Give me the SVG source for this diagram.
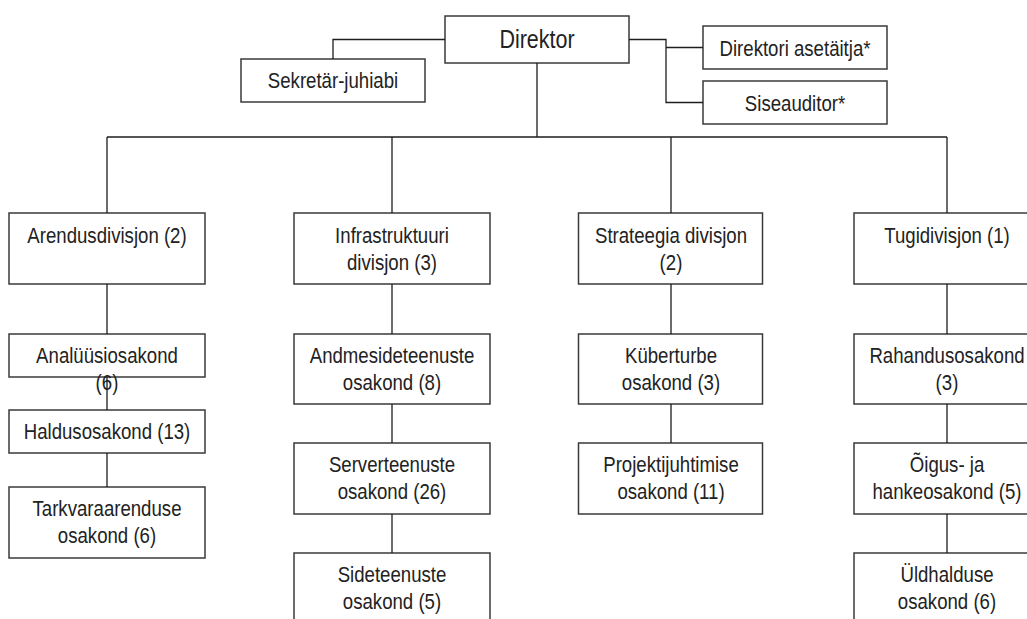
<svg xmlns="http://www.w3.org/2000/svg" width="1027" height="619" viewBox="0 0 1027 619">
  <style>
    .box { fill: #ffffff; stroke: #3a3a3a; stroke-width: 1.5; }
    .lbl { font-family: "Liberation Sans", Arial, sans-serif; font-size: 23px; fill: #222222; text-anchor: middle; }
    .big { font-size: 26.5px; }
    .wire { fill: none; stroke: #1e1e1e; stroke-width: 1.3; }
  </style>
  <rect width="1027" height="619" fill="#ffffff"/>

  <!-- top management -->
  <g id="direktor">
    <rect class="box" x="445" y="16" width="184" height="47"/>
    <text class="lbl big" transform="translate(537,48) scale(0.81,1)">Direktor</text>
  </g>
  <g id="sekretar">
    <rect class="box" x="241" y="59" width="184" height="43"/>
    <text class="lbl" transform="translate(333,88) scale(0.81,1)">Sekretär-juhiabi</text>
  </g>
  <g id="asetaitja">
    <rect class="box" x="703" y="26" width="184" height="43"/>
    <text class="lbl" transform="translate(795,56) scale(0.81,1)">Direktori asetäitja*</text>
  </g>
  <g id="siseaudiitor">
    <rect class="box" x="703" y="81" width="184" height="43"/>
    <text class="lbl" transform="translate(795,111) scale(0.81,1)">Siseauditor*</text>
  </g>

  <!-- divisions -->
  <g id="arendus">
    <rect class="box" x="9" y="213" width="196" height="71"/>
    <text class="lbl" transform="translate(107,243) scale(0.81,1)">Arendusdivisjon (2)</text>
  </g>
  <g id="infra">
    <rect class="box" x="294" y="213" width="196" height="71"/>
    <text class="lbl" transform="translate(392,243) scale(0.81,1)"><tspan x="0">Infrastruktuuri</tspan><tspan x="0" dy="27">divisjon (3)</tspan></text>
  </g>
  <g id="strateegia">
    <rect class="box" x="578.5" y="213" width="184" height="71"/>
    <text class="lbl" transform="translate(671,243) scale(0.81,1)"><tspan x="0">Strateegia divisjon</tspan><tspan x="0" dy="27">(2)</tspan></text>
  </g>
  <g id="tugi">
    <rect class="box" x="854" y="213" width="186" height="71"/>
    <text class="lbl" transform="translate(947,243) scale(0.81,1)">Tugidivisjon (1)</text>
  </g>

  <!-- Arendusdivisjon departments -->
  <g id="analuusi">
    <rect class="box" x="9" y="334" width="196" height="43"/>
    <text class="lbl" transform="translate(107,363) scale(0.81,1)"><tspan x="0">Analüüsiosakond</tspan><tspan x="0" dy="27">(6)</tspan></text>
  </g>
  <g id="haldus">
    <rect class="box" x="9" y="410" width="196" height="43"/>
    <text class="lbl" transform="translate(107,439) scale(0.81,1)">Haldusosakond (13)</text>
  </g>
  <g id="tarkvara">
    <rect class="box" x="9" y="487" width="196" height="71"/>
    <text class="lbl" transform="translate(107,516) scale(0.81,1)"><tspan x="0">Tarkvaraarenduse</tspan><tspan x="0" dy="27">osakond (6)</tspan></text>
  </g>

  <!-- Infrastruktuuri divisjon departments -->
  <g id="andmeside">
    <rect class="box" x="294" y="334" width="196" height="70"/>
    <text class="lbl" transform="translate(392,363) scale(0.81,1)"><tspan x="0">Andmesideteenuste</tspan><tspan x="0" dy="27">osakond (8)</tspan></text>
  </g>
  <g id="server">
    <rect class="box" x="294" y="443" width="196" height="71"/>
    <text class="lbl" transform="translate(392,472) scale(0.81,1)"><tspan x="0">Serverteenuste</tspan><tspan x="0" dy="27">osakond (26)</tspan></text>
  </g>
  <g id="sideteenuste">
    <rect class="box" x="294" y="553" width="196" height="71"/>
    <text class="lbl" transform="translate(392,582) scale(0.81,1)"><tspan x="0">Sideteenuste</tspan><tspan x="0" dy="27">osakond (5)</tspan></text>
  </g>

  <!-- Strateegia divisjon departments -->
  <g id="kuberturbe">
    <rect class="box" x="578.5" y="334" width="184" height="70"/>
    <text class="lbl" transform="translate(671,363) scale(0.81,1)"><tspan x="0">Küberturbe</tspan><tspan x="0" dy="27">osakond (3)</tspan></text>
  </g>
  <g id="projekt">
    <rect class="box" x="578.5" y="443" width="184" height="71"/>
    <text class="lbl" transform="translate(671,472) scale(0.81,1)"><tspan x="0">Projektijuhtimise</tspan><tspan x="0" dy="27">osakond (11)</tspan></text>
  </g>

  <!-- Tugidivisjon departments -->
  <g id="rahandus">
    <rect class="box" x="854" y="334" width="186" height="70"/>
    <text class="lbl" transform="translate(947,363) scale(0.81,1)"><tspan x="0">Rahandusosakond</tspan><tspan x="0" dy="27">(3)</tspan></text>
  </g>
  <g id="oigus">
    <rect class="box" x="854" y="443" width="186" height="71"/>
    <text class="lbl" transform="translate(947,472) scale(0.81,1)"><tspan x="0">Õigus- ja</tspan><tspan x="0" dy="27">hankeosakond (5)</tspan></text>
  </g>
  <g id="uldhalduse">
    <rect class="box" x="854" y="553" width="186" height="71"/>
    <text class="lbl" transform="translate(947,582) scale(0.81,1)"><tspan x="0">Üldhalduse</tspan><tspan x="0" dy="27">osakond (6)</tspan></text>
  </g>

  <!-- connectors -->
  <g id="connectors" class="wire">
    <path class="wire" d="M445,39.5 H333 V59"/>
    <path class="wire" d="M629,39.5 H666 V102.5 H703 M666,47.5 H703"/>
    <path class="wire" d="M537,63 V137 M107,137 H947"/>
    <path class="wire" d="M107,137 V213 M392,137 V213 M671,137 V213 M947,137 V213"/>
    <path class="wire" d="M107,284 V334 M107,377 V410 M107,453 V487"/>
    <path class="wire" d="M392,284 V334 M392,404 V443 M392,514 V553"/>
    <path class="wire" d="M671,284 V334 M671,404 V443"/>
    <path class="wire" d="M947,284 V334 M947,404 V443 M947,514 V553"/>
  </g>
</svg>
